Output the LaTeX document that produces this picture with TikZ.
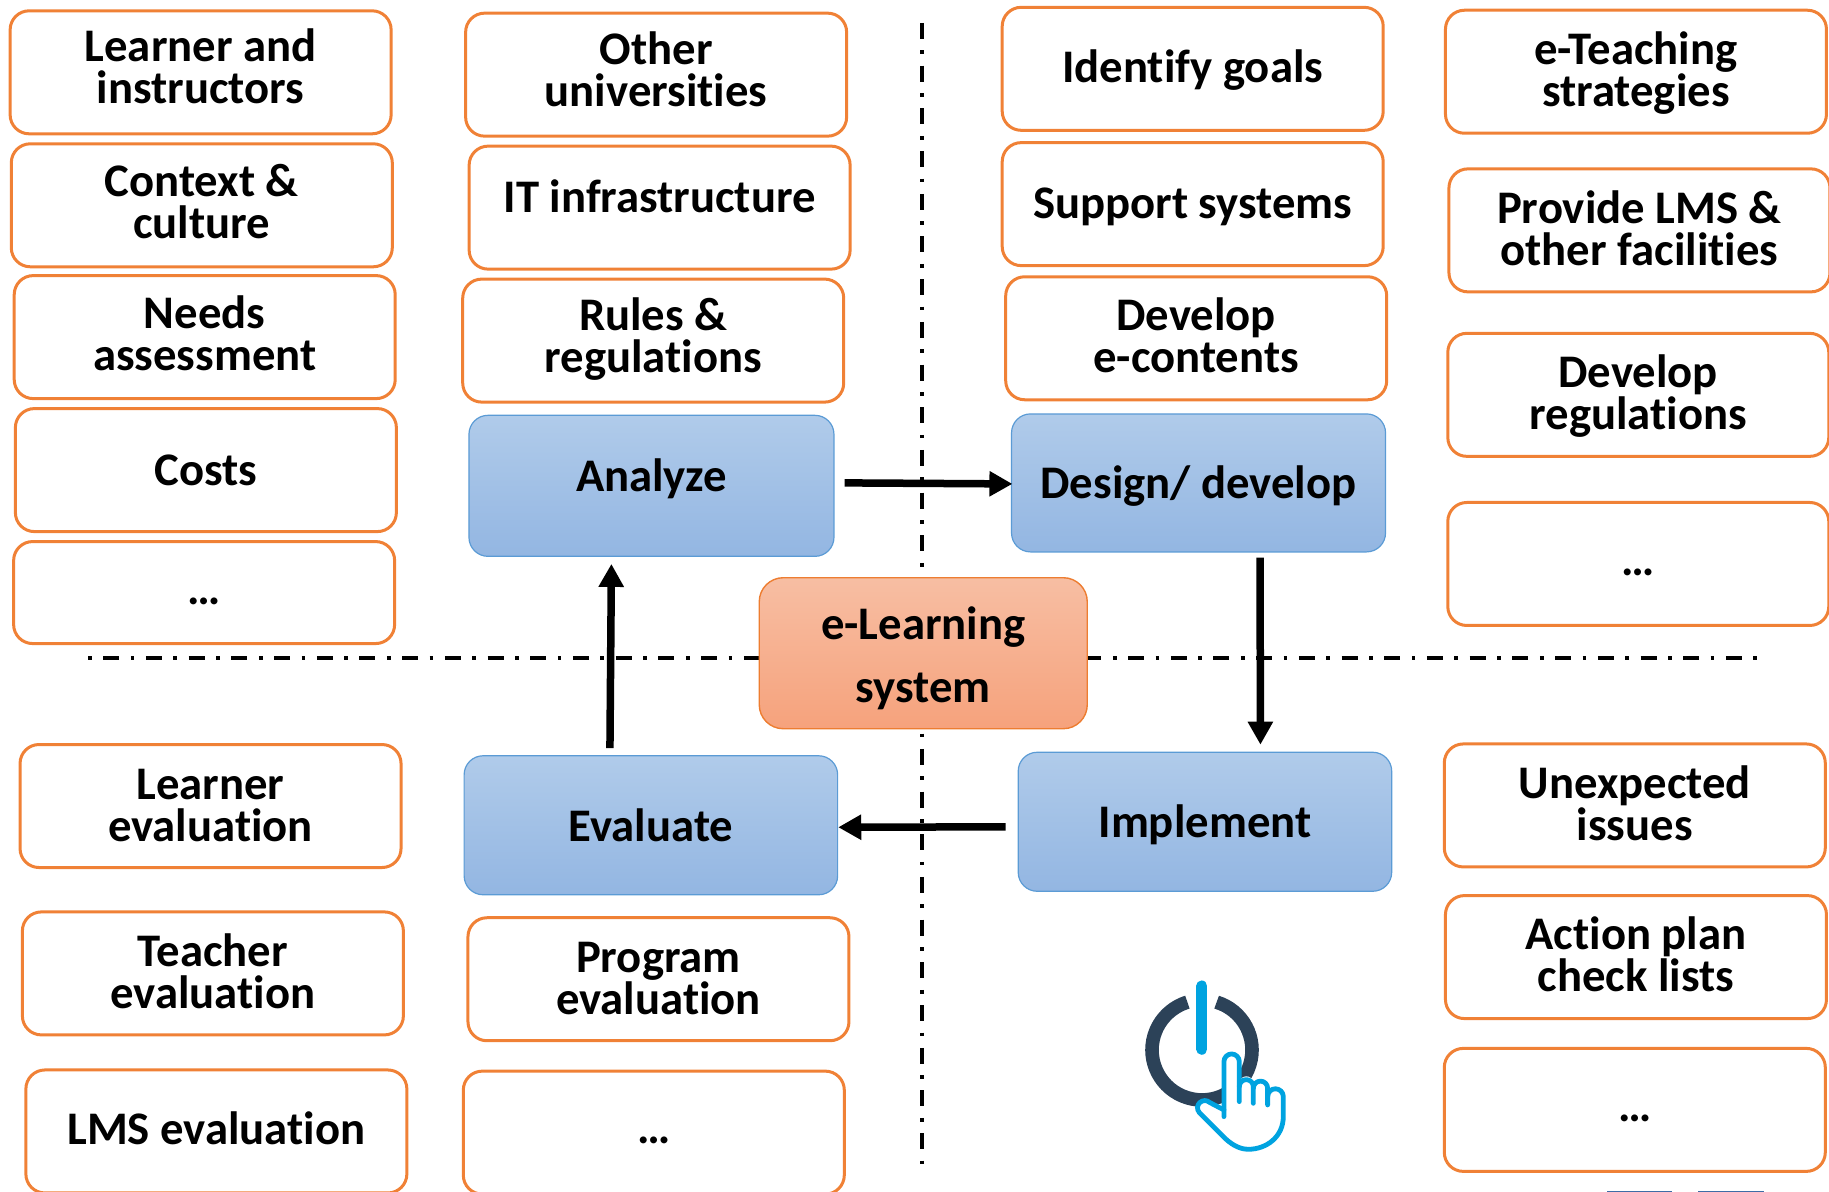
\documentclass[tikz,border=0pt]{standalone}
\usepackage{fontspec}
\setmainfont{Carlito}[Ligatures={CommonOff,ContextualOff}]
\usetikzlibrary{arrows.meta,calc}
\definecolor{boxorange}{HTML}{F08136}
\definecolor{blueedge}{HTML}{5B9BD5}
\definecolor{bluetop}{HTML}{B0CBEA}
\definecolor{bluebot}{HTML}{93B6E2}
\definecolor{ortop}{HTML}{F7BEA3}
\definecolor{orbot}{HTML}{F6A27C}
\definecolor{oredge}{HTML}{ED7D31}
\definecolor{ringdark}{HTML}{2C4258}
\definecolor{handblue}{HTML}{00A3E0}
\definecolor{edgemark}{HTML}{3F6CA6}
\tikzset{
  lbl/.style={font=\bfseries\fontsize{46.7}{42}\selectfont,align=center,text=black,inner sep=0pt},
  lblwide/.style={font=\bfseries\fontsize{46.7}{63}\selectfont,align=center,text=black,inner sep=0pt},
  tx/.style n args={2}{label={[lbl,yshift=#1pt]center:{#2}}},
  txw/.style n args={2}{label={[lblwide,yshift=#1pt]center:{#2}}},
  itembox/.style={draw=boxorange,line width=3pt,rounded corners=19pt,fill=white,minimum width=381pt,minimum height=123pt,inner sep=0pt},
  stagebox/.style={draw=blueedge,line width=1.2pt,rounded corners=19pt,top color=bluetop,bottom color=bluebot,minimum width=372pt,minimum height=139pt,inner sep=0pt},
  corebox/.style={draw=oredge,line width=1.4pt,rounded corners=24pt,top color=ortop,bottom color=orbot,minimum width=328pt,minimum height=151pt,inner sep=0pt},
  flow/.style={line width=7.5pt,-{Triangle[length=23pt,width=24pt]}},
  axisv/.style={line width=4.2pt,dash pattern=on 16pt off 11.5pt on 3.7pt off 11.5pt},
  axish/.style={line width=4.2pt,dash pattern=on 3.7pt off 11.5pt on 16pt off 11.5pt},
  handline/.style={handblue,line width=4.8pt,line join=round,line cap=round},
}
\begin{document}
\begin{tikzpicture}[x=1.16645pt,y=-1.16645pt]
\useasboundingbox (0,0) rectangle (1568,1021.9);
% axes
\coordinate (vtop) at (790.5,19.7);
\coordinate (vbot) at (790.5,1004);
\coordinate (hl) at (75.5,564);
\coordinate (hr) at (1506,564);
\draw[axisv] (vtop) -- (vbot);
\draw[axish] (hl) -- (hr);
% column 1
\node[itembox,tx={6.4}{Learner and\\instructors}] (a1) at (172,62) {};
\node[itembox,tx={3.5}{Context \&\\culture}] (a2) at (173,176) {};
\node[itembox,tx={3.5}{Needs\\assessment}] (a3) at (175.5,289) {};
\node[itembox,tx={0}{Costs}] (a4) at (176.5,403) {};
\node[itembox,minimum height=102pt,tx={-3.5}{\strut…}] (a5) at (175,508) {};
\node[itembox,tx={0}{Learner\\evaluation}] (a6) at (180.5,691) {};
\node[itembox,tx={2.3}{Teacher\\evaluation}] (a7) at (182.5,834.5) {};
\node[itembox,tx={3.5}{LMS evaluation}] (a8) at (185.5,970) {};
% column 2
\node[itembox,tx={5.8}{Other\\universities}] (b1) at (562.5,64) {};
\node[itembox,tx={11.5}{IT infrastructure}] (b2) at (565.5,178) {};
\node[itembox,tx={1.7}{Rules \&\\regulations}] (b3) at (560,292) {};
\node[itembox,tx={1}{Program\\evaluation}] (b4) at (564.5,839.5) {};
\node[itembox,tx={-2.3}{\strut…}] (b5) at (560.5,971) {};
% column 3
\node[itembox,tx={-1}{Identify goals}] (c1) at (1022.5,59) {};
\node[itembox,tx={-2.3}{Support systems}] (c2) at (1022.5,175) {};
\node[itembox,tx={2.5}{Develop\\e-contents}] (c3) at (1025.5,290) {};
% column 4
\node[itembox,tx={-1}{e-Teaching\\strategies}] (d1) at (1402.5,61.5) {};
\node[itembox,tx={2.3}{Provide LMS \&\\other facilities}] (d2) at (1405.5,197.5) {};
\node[itembox,tx={-1}{Develop\\regulations}] (d3) at (1404.5,338.5) {};
\node[itembox,tx={-3.5}{\strut…}] (d4) at (1404.5,483.5) {};
\node[itembox,tx={2.3}{Unexpected\\issues}] (d5) at (1401.5,690.5) {};
\node[itembox,tx={2.3}{Action plan\\check lists}] (d6) at (1402.5,820.5) {};
\node[itembox,tx={-3.5}{\strut…}] (d7) at (1401.5,951.5) {};
% stages
\node[stagebox,minimum width=365pt,minimum height=141pt,tx={7}{Analyze}] (an) at (558.5,416.5) {};
\node[stagebox,minimum width=374pt,minimum height=138pt,tx={-3.5}{Design/ develop}] (de) at (1027.5,414) {};
\node[stagebox,minimum width=373.5pt,tx={0}{Evaluate}] (ev) at (558,707.5) {};
\node[stagebox,minimum width=373.5pt,tx={-3.5}{Implement}] (im) at (1033,704.5) {};
\node[corebox,txw={-5.5}{e-Learning\\system}] (core) at (791.5,560) {};
% flows
\draw[flow,shorten <=10pt,shorten >=-1.5pt] ([yshift=3pt]an.east) -- ([yshift=-1pt]de.west);
\draw[flow,shorten <=5pt,shorten >=7pt] ([xshift=61.5pt]de.south) -- ([xshift=55.5pt]im.north);
\draw[flow,shorten <=12pt] ([yshift=-5pt]im.west) -- ([yshift=-2pt]ev.east);
\draw[flow,shorten <=7pt,shorten >=7pt] ([xshift=-41pt]ev.north) -- ([xshift=-40pt]an.south);
% power icon
\begin{scope}[shift={(943,814.4)},x=0.3333pt,y=-0.3333pt]
  \draw[ringdark,line width=13.6pt] (350,156.6) arc[start angle=-73,end angle=253,radius=150];
  \draw[handblue,line width=11pt,line cap=round] (306,108) -- (306,298);
  \path[fill=white] (372,480) -- (372,335) arc[start angle=180,end angle=360,radius=23] -- (418,400) arc[start angle=180,end angle=350,radius=21] arc[start angle=190,end angle=350,radius=21] arc[start angle=190,end angle=360,radius=24] -- (550,500) .. controls (550,560) and (500,598) .. (445,598) .. controls (415,598) and (390,580) .. (370,560) -- (298,488) .. controls (280,465) and (310,440) .. (330,458) -- cycle;
  \draw[handline] (372,500) -- (372,335) arc[start angle=180,end angle=360,radius=23] -- (418,455);
  \draw[handline] (418,410) arc[start angle=180,end angle=360,radius=21] -- (460,460);
  \draw[handline] (460,415) arc[start angle=180,end angle=360,radius=21.5] -- (503,465);
  \draw[handline] (503,440) arc[start angle=180,end angle=360,radius=23.5] -- (550,500) .. controls (550,560) and (500,598) .. (445,598) .. controls (415,598) and (390,580) .. (370,560) -- (298,488) .. controls (280,465) and (310,440) .. (330,458) -- (372,480);
\end{scope}
% tiny marks at the lower edge
\fill[edgemark] (1378,1020.8) rectangle (1433,1022);
\fill[edgemark] (1456,1020.8) rectangle (1512,1022);
\end{tikzpicture}
\end{document}
